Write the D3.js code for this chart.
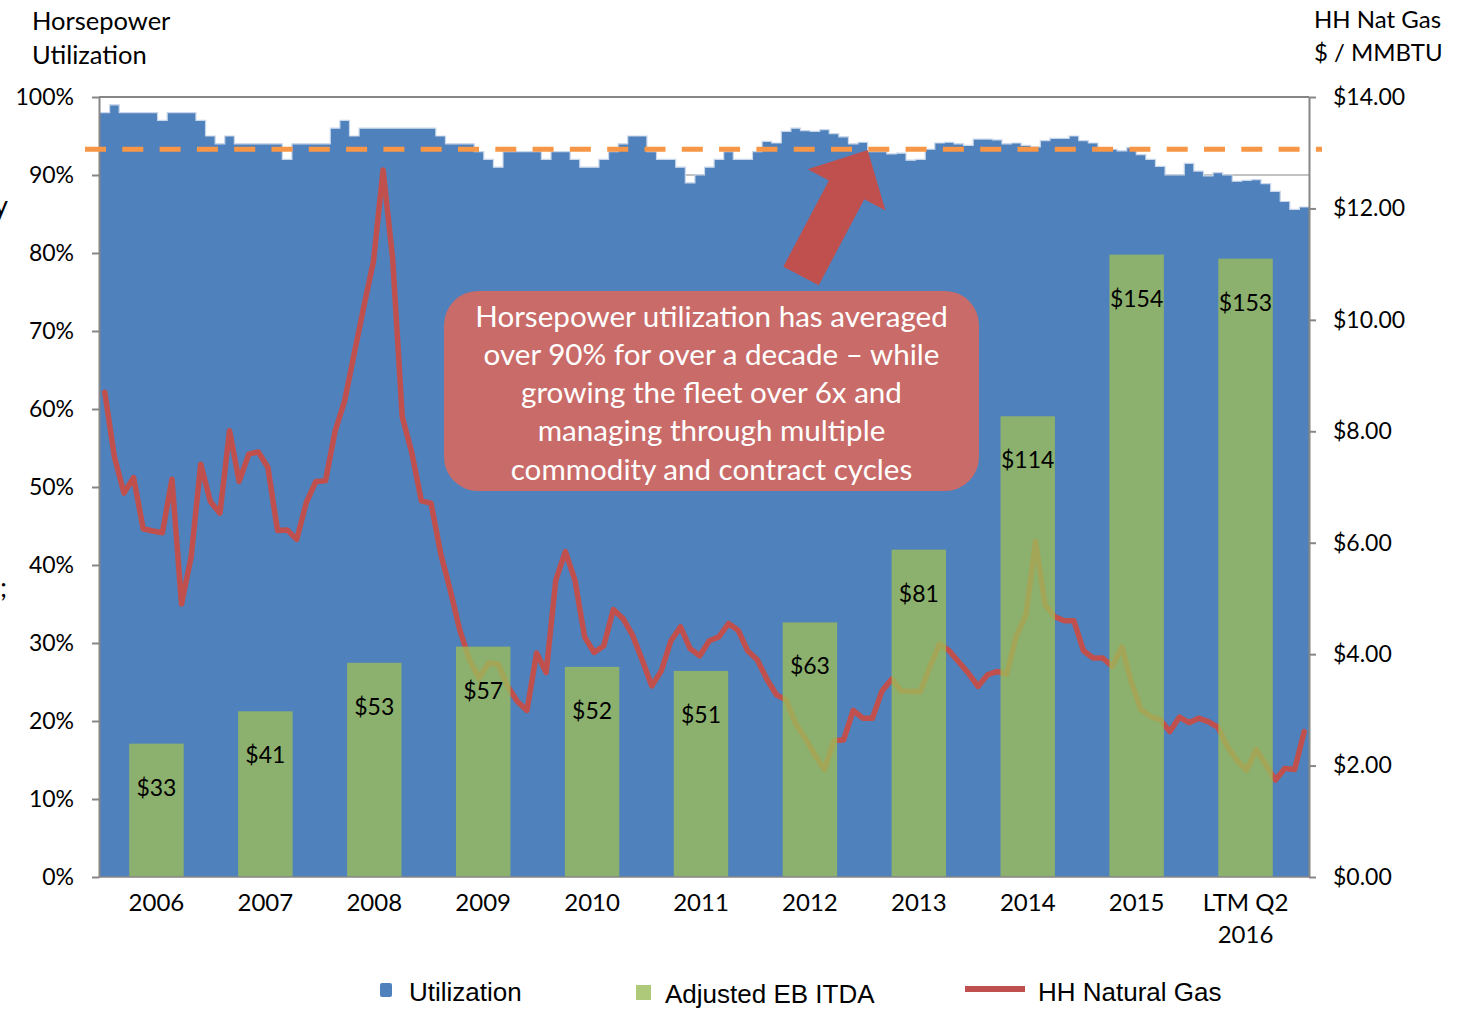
<!DOCTYPE html>
<html><head><meta charset="utf-8">
<script src="https://cdn.jsdelivr.net/npm/d3@7"></script>
<style>html,body{margin:0;padding:0;background:#fff;overflow:hidden}</style>
</head><body>
<script>
// ---------------- DATA ----------------
const categories = ["2006","2007","2008","2009","2010","2011","2012","2013","2014","2015","LTM Q2 2016"];
const ebitda = [33,41,53,57,52,51,63,81,114,154,153];
const utilization = [98,99,98,98,98,98,97,98,98,98,
 97,95,94,95,94,94,94,94,94,92,
 94,94,94,94,96,97,95,96,96,96,
 96,96,96,96,96,95,94,94,94,93,
 92,91,93,93,93,93,92,93,93,92,
 91,91,92,93,94,95,95,93,92,92,
 91,89,90,91,92,93,92,92,93,94.3,
 94.1,95.6,96.0,95.7,95.6,95.8,95.3,94.9,94.0,94.2,
 93,93,92.7,92.8,91.9,92,93.3,94.1,94.2,94.0,
 93.8,94.6,94.6,94.5,94.0,94.1,93.8,93.6,94.4,94.7,
 94.7,95.0,94.4,94.1,93.5,93.3,93.1,93.5,92.6,92.0,
 91.1,90.0,90.0,91.5,90.5,89.9,90.3,90.0,89.2,89.3,
 89.4,88.9,87.9,86.6,85.6,85.9];
const natGas = [8.70,7.54,6.89,7.17,6.25,6.21,6.18,7.14,4.90,5.75,
 7.41,6.74,6.53,8.01,7.10,7.59,7.63,7.35,6.22,6.23,
 6.06,6.72,7.10,7.11,8.00,8.55,9.40,10.24,11.05,12.69,
 11.10,8.26,7.61,6.75,6.71,5.81,5.15,4.43,3.90,3.57,
 3.84,3.82,3.42,3.15,2.99,4.02,3.67,5.33,5.84,5.33,
 4.31,4.03,4.15,4.80,4.64,4.34,3.90,3.43,3.70,4.24,
 4.49,4.10,3.97,4.24,4.31,4.55,4.43,4.06,3.90,3.55,
 3.27,3.18,2.75,2.49,2.19,1.93,2.45,2.46,2.99,2.85,
 2.85,3.34,3.55,3.34,3.33,3.33,3.78,4.18,4.06,3.86,
 3.66,3.42,3.63,3.69,3.64,4.33,4.70,6.02,4.88,4.67,
 4.60,4.60,4.06,3.93,3.93,3.78,4.13,3.49,3.00,2.88,
 2.82,2.61,2.87,2.77,2.85,2.79,2.69,2.34,2.09,1.92,
 2.29,2.01,1.74,1.95,1.93,2.61];
const avgUtilization = 93.3;
const leftTicks = [0,10,20,30,40,50,60,70,80,90,100];
const rightTicks = [0,2,4,6,8,10,12,14];
const calloutLines = ["Horsepower utilization has averaged","over 90% for over a decade \u2013 while","growing the fleet over 6x and","managing through multiple","commodity and contract cycles"];
const legendItems = ["Utilization","Adjusted EB ITDA","HH Natural Gas"];

// ---------------- LAYOUT ----------------
const W = 1465, H = 1009;
const L = 99, R = 1309, T = 97, B = 877;
const FONT = "Lato, 'Open Sans', sans-serif";
const GRAY = "#868686";

const svg = d3.select("body").append("svg").attr("width", W).attr("height", H)
  .style("font-family", FONT);

const yL = d3.scaleLinear([0,100],[B,T]);
const yR = d3.scaleLinear([0,14],[B,T]);
const yE = d3.scaleLinear([0,193],[B,T]);
const xM = d3.scaleLinear([0,utilization.length],[L+1,R]);
const xB = d3.scaleBand(categories,[102,1300]).paddingInner(0.5).paddingOuter(0.25);

// gridlines
svg.append("g").selectAll("line").data(leftTicks.filter(d=>d>0)).join("line")
  .attr("x1", L).attr("x2", R).attr("y1", d=>yL(d)).attr("y2", d=>yL(d))
  .attr("stroke", GRAY).attr("stroke-width", d=>d===100?2:1);

// utilization area (step)
const utilExt = utilization.concat([utilization[utilization.length-1]]);
const area = d3.area().curve(d3.curveStepAfter)
  .x((d,i)=>xM(i)).y0(B).y1(d=>yL(d));
svg.append("path").datum(utilExt).attr("d", area).attr("fill", "#4F81BD");
svg.append("path").datum(utilExt)
  .attr("d", d3.line().curve(d3.curveStepAfter).x((d,i)=>xM(i)).y(d=>yL(d)))
  .attr("fill","none").attr("stroke","#c9d7ea").attr("stroke-width",1.2);

// nat gas line
svg.append("path").datum(natGas)
  .attr("d", d3.line().x((d,i)=>xM(i+0.5)).y(d=>yR(d)))
  .attr("fill","none").attr("stroke","#C0504D").attr("stroke-width",5.5)
  .attr("stroke-linejoin","round").attr("stroke-linecap","round");

// EBITDA bars
svg.append("g").selectAll("rect").data(ebitda).join("rect")
  .attr("x", (d,i)=>xB(categories[i])).attr("width", xB.bandwidth())
  .attr("y", d=>yE(d)).attr("height", d=>B-yE(d))
  .attr("fill","#9BBB59").attr("fill-opacity",0.8);
svg.append("g").selectAll("text").data(ebitda).join("text")
  .attr("x", (d,i)=>xB(categories[i])+xB.bandwidth()/2)
  .attr("y", d=>yE(d)+43).attr("dominant-baseline","central")
  .attr("text-anchor","middle").attr("font-size",23).attr("fill","#000")
  .text(d=>"$"+d);

// axes
const gl = svg.append("g").attr("transform",`translate(${L},0)`)
  .call(d3.axisLeft(yL).tickValues(leftTicks).tickFormat(d=>d+"%").tickSize(7).tickSizeOuter(0).tickPadding(18));
const gr = svg.append("g").attr("transform",`translate(${R},0)`)
  .call(d3.axisRight(yR).tickValues(rightTicks).tickFormat(d=>"$"+d.toFixed(2)).tickSize(7).tickSizeOuter(0).tickPadding(17));
[gl,gr].forEach(g=>{
  g.select(".domain").attr("stroke",GRAY).attr("stroke-width",2);
  g.selectAll(".tick line").attr("stroke",GRAY).attr("stroke-width",2);
  g.selectAll(".tick text").attr("font-family",FONT).attr("font-size",23).attr("fill","#000");
});
svg.append("line").attr("x1",L).attr("x2",R).attr("y1",B).attr("y2",B).attr("stroke",GRAY).attr("stroke-width",1.5);

// x labels
const xl = svg.append("g").selectAll("text").data(categories).join("text")
  .attr("x", d=>xB(d)+xB.bandwidth()/2).attr("y", 911)
  .attr("text-anchor","middle").attr("font-size",24).attr("fill","#000");
xl.each(function(d){
  const parts = d.startsWith("LTM") ? ["LTM Q2","2016"] : [d];
  d3.select(this).selectAll("tspan").data(parts).join("tspan")
    .attr("x", xB(d)+xB.bandwidth()/2).attr("dy",(p,i)=>i?32:0).text(p=>p);
});

// average dashed line
svg.append("line").attr("x1",85).attr("x2",1322)
  .attr("y1", yL(avgUtilization)).attr("y2", yL(avgUtilization))
  .attr("stroke","#F79646").attr("stroke-width",5).attr("stroke-dasharray","21 16.3");

// callout box
svg.append("rect").attr("x",444).attr("y",291).attr("width",535).attr("height",200)
  .attr("rx",34).attr("fill","#C96B68");
svg.append("g").selectAll("text").data(calloutLines).join("text")
  .attr("x",711.5).attr("y",(d,i)=>315+i*38.3).attr("dominant-baseline","central")
  .attr("text-anchor","middle").attr("font-size",29.6).attr("fill","#fff").text(d=>d);

// arrow (in data space)
(function(){
  const tip = [xM(80.0), yL(93.2)];
  const tail = [xM(73.06), yL(77.05)];
  const dx = tip[0]-tail[0], dy = tip[1]-tail[1], len = Math.hypot(dx,dy);
  const u = [dx/len, dy/len], p = [-u[1], u[0]];
  const headLen = 45, hw = 20, hh = 44;
  const m = [tip[0]-u[0]*headLen, tip[1]-u[1]*headLen];
  const pt = (c,s,k)=>[c[0]+p[0]*s*k, c[1]+p[1]*s*k];
  const pts = [pt(tail,1,hw), pt(m,1,hw), pt(m,1,hh), tip, pt(m,-1,hh), pt(m,-1,hw), pt(tail,-1,hw)];
  svg.append("path").attr("d", d3.line()(pts)+"Z").attr("fill","#C0504D");
})();

// titles
const t1 = svg.append("text").attr("x",32).attr("y",30).attr("font-size",25.5).attr("fill","#000");
t1.append("tspan").attr("x",32).text("Horsepower");
t1.append("tspan").attr("x",32).attr("dy",34).text("Utilization");
const t2 = svg.append("text").attr("x",1314).attr("y",28).attr("font-size",24).attr("fill","#000");
t2.append("tspan").attr("x",1314).text("HH Nat Gas");
t2.append("tspan").attr("x",1314).attr("dy",33).text("$ / MMBTU");

// cut-off text at left edge
svg.append("text").attr("x",8).attr("y",215).attr("text-anchor","end").attr("font-size",27).text("y");
svg.append("text").attr("x",7).attr("y",597).attr("text-anchor","end").attr("font-size",27).text(";");

// legend
const lg = svg.append("g").style("font-family","'Liberation Sans', Arial, sans-serif");
lg.append("rect").attr("x",380).attr("y",983).attr("width",12).attr("height",14).attr("rx",2).attr("fill","#4F81BD");
lg.append("rect").attr("x",636).attr("y",985).attr("width",15).attr("height",15).attr("fill","#9BBB59").attr("fill-opacity",0.8);
lg.append("line").attr("x1",965).attr("x2",1025).attr("y1",989).attr("y2",989).attr("stroke","#C0504D").attr("stroke-width",6);
lg.selectAll("text").data(legendItems).join("text")
  .attr("x",(d,i)=>[409,665,1038][i]).attr("y",(d,i)=>[1001,1002.5,1001][i])
  .attr("font-size",26).attr("fill","#000").text(d=>d);
</script>
</body></html>
